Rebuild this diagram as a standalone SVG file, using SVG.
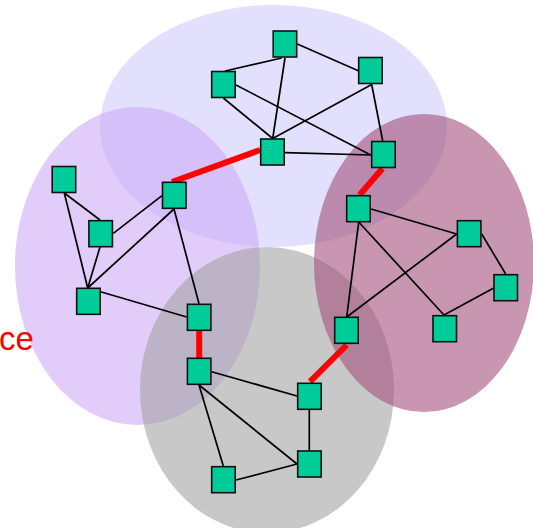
<svg xmlns="http://www.w3.org/2000/svg" width="533" height="528" viewBox="0 0 533 528">
<style>
.node rect{fill:#00cc99;stroke:#111;stroke-width:1.6}
.edge{stroke:#000;stroke-width:1.7;fill:none}
.link{stroke:#ff0000;stroke-width:6;fill:none}
.blob{fill-opacity:0.6}
.lbl{font-family:"Liberation Sans",Arial,sans-serif;font-size:33px;fill:#ff0000}
</style>
<rect width="533" height="528" fill="#ffffff"/>
<g id="groups">
<ellipse id="g-top" class="blob" cx="273.5" cy="126" rx="173.5" ry="121" fill="#cfcbfa"/>
<ellipse id="g-left" class="blob" cx="137.5" cy="266" rx="122.5" ry="159" fill="#cdaaf7"/>
<ellipse id="g-bottom" class="blob" cx="267" cy="390" rx="127" ry="143" fill="#a3a3a3"/>
<ellipse id="g-right" class="blob" cx="424" cy="263" rx="110" ry="149" fill="#a3507b"/>
</g>
<text class="lbl" x="-1" y="350">ce</text>
<g id="connectors">
<line class="edge" x1="281.7" y1="58" x2="225" y2="71"/>
<line class="edge" x1="297.3" y1="44" x2="358.3" y2="70.7"/>
<line class="edge" x1="285" y1="58" x2="272.7" y2="138.5"/>
<line class="edge" x1="223.3" y1="98" x2="272.7" y2="138.5"/>
<line class="edge" x1="236" y1="85" x2="370.7" y2="155"/>
<line class="edge" x1="371.7" y1="84.5" x2="272.7" y2="138.5"/>
<line class="edge" x1="371.7" y1="84.5" x2="382.7" y2="141"/>
<line class="edge" x1="285" y1="152.7" x2="370.7" y2="155"/>
<line class="edge" x1="64.3" y1="193" x2="100" y2="220"/>
<line class="edge" x1="64.3" y1="193" x2="87.7" y2="288"/>
<line class="edge" x1="100" y1="247" x2="87.7" y2="288"/>
<line class="edge" x1="113.3" y1="233.3" x2="162" y2="195.7"/>
<line class="edge" x1="174" y1="209" x2="87.7" y2="288"/>
<line class="edge" x1="174" y1="209" x2="199" y2="303.7"/>
<line class="edge" x1="87.7" y1="288" x2="186.7" y2="317"/>
<line class="edge" x1="211.7" y1="371.7" x2="297" y2="396"/>
<line class="edge" x1="199" y1="385" x2="297" y2="464"/>
<line class="edge" x1="199" y1="385" x2="223.3" y2="466"/>
<line class="edge" x1="309.3" y1="410" x2="309.3" y2="450.3"/>
<line class="edge" x1="236" y1="480" x2="297" y2="464"/>
<line class="edge" x1="371" y1="209" x2="456.7" y2="234"/>
<line class="edge" x1="358.7" y1="222" x2="346.7" y2="317"/>
<line class="edge" x1="358.7" y1="222" x2="444" y2="315"/>
<line class="edge" x1="456.7" y1="234" x2="346.7" y2="317"/>
<line class="edge" x1="481.7" y1="234" x2="505.7" y2="274"/>
<line class="edge" x1="493.3" y1="288.3" x2="444" y2="315"/>
<line class="link" x1="260" y1="150" x2="172" y2="182"/>
<line class="link" x1="382.5" y1="168.5" x2="359.5" y2="195"/>
<line class="link" x1="199.2" y1="330" x2="199.2" y2="359"/>
<line class="link" x1="346.7" y1="345" x2="310" y2="381.7"/>
</g>
<g id="n-t1" class="node"><rect x="273.2" y="31" width="23.5" height="26"/></g>
<g id="n-t2" class="node"><rect x="211.7" y="71.5" width="23.5" height="26"/></g>
<g id="n-t3" class="node"><rect x="358.7" y="57.5" width="23.5" height="26"/></g>
<g id="n-t4" class="node"><rect x="260.7" y="139" width="23.5" height="26"/></g>
<g id="n-t5" class="node"><rect x="371.7" y="141.5" width="23.5" height="26"/></g>
<g id="n-l1" class="node"><rect x="52.2" y="166.5" width="23.5" height="26"/></g>
<g id="n-l2" class="node"><rect x="88.9" y="220.7" width="23.5" height="26"/></g>
<g id="n-l3" class="node"><rect x="162.5" y="182.3" width="23.5" height="26"/></g>
<g id="n-l4" class="node"><rect x="76.7" y="288.3" width="23.5" height="26"/></g>
<g id="n-l5" class="node"><rect x="187.4" y="304.3" width="23.5" height="26"/></g>
<g id="n-b1" class="node"><rect x="187.4" y="358.3" width="23.5" height="26"/></g>
<g id="n-b2" class="node"><rect x="297.7" y="383.3" width="23.5" height="26"/></g>
<g id="n-b3" class="node"><rect x="297.7" y="451" width="23.5" height="26"/></g>
<g id="n-b4" class="node"><rect x="211.7" y="466.7" width="23.5" height="26"/></g>
<g id="n-r1" class="node"><rect x="334.7" y="317.3" width="23.5" height="26"/></g>
<g id="n-r2" class="node"><rect x="346.7" y="195.7" width="23.5" height="26"/></g>
<g id="n-r3" class="node"><rect x="457.4" y="220.7" width="23.5" height="26"/></g>
<g id="n-r4" class="node"><rect x="494" y="274.7" width="23.5" height="26"/></g>
<g id="n-r5" class="node"><rect x="433" y="315.7" width="23.5" height="26"/></g>
</svg>
